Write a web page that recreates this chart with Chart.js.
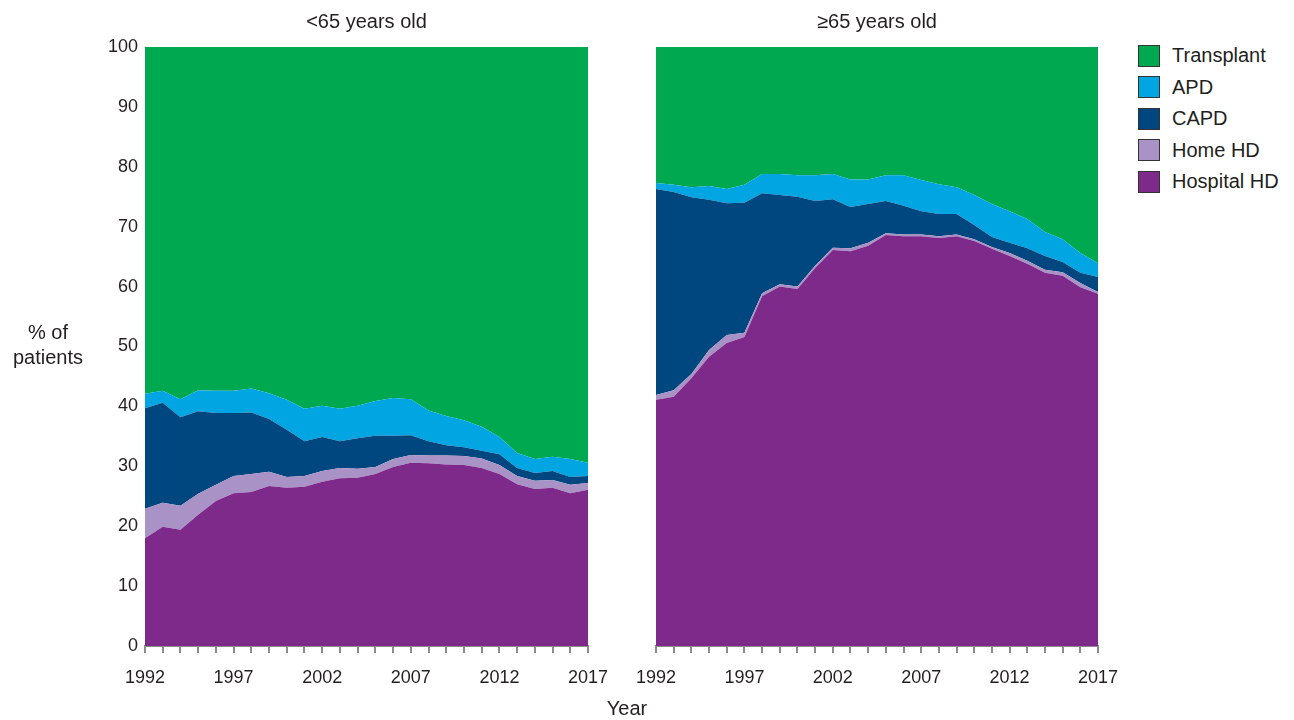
<!DOCTYPE html>
<html>
<head>
<meta charset="utf-8">
<script src="https://cdn.jsdelivr.net/npm/chart.js@4/dist/chart.umd.min.js"></script>
<style>
  body { margin: 0; background: #fff; font-family: "Liberation Sans", Arial, sans-serif; color: #231f20; }
  #wrap { position: relative; width: 1294px; height: 720px; overflow: hidden; }
  #left { position: absolute; left: 0; top: 0; }
  #right { position: absolute; left: 600px; top: 0; }
  .lbl { position: absolute; font-size: 20px; line-height: 25px; text-align: center; }
  #legend { position: absolute; left: 1138px; top: 40px; font-size: 20px; background: #fff; }
  .item { display: flex; align-items: center; height: 31.5px; }
  .box { width: 20px; height: 20px; border: 1px solid #333; margin-right: 12px; }
</style>
</head>
<body>
<div id="wrap">
  <canvas id="left" width="630" height="720"></canvas>
  <canvas id="right" width="540" height="720"></canvas>
  <div class="lbl" style="left:0; top:320px; width:96px;">% of<br>patients</div>
  <div class="lbl" style="left:597px; top:696px; width:60px;">Year</div>
  <div id="legend"></div>
</div>
<script>
const years = [1992, 1993, 1994, 1995, 1996, 1997, 1998, 1999, 2000, 2001, 2002, 2003, 2004,
  2005, 2006, 2007, 2008, 2009, 2010, 2011, 2012, 2013, 2014, 2015, 2016, 2017];

const seriesNames = ["Hospital HD", "Home HD", "CAPD", "APD", "Transplant"];
const seriesColors = ["#7e2a8b", "#a993c6", "#00467f", "#00a5e1", "#00a94f"];

// under 65, % of patients per modality
const under65Hospital = [18.0, 19.9, 19.4, 21.9, 24.2, 25.5, 25.7, 26.7, 26.4, 26.6, 27.4, 28.0, 28.1,
  28.7, 29.9, 30.6, 30.5, 30.3, 30.2, 29.7, 28.7, 27.0, 26.2, 26.4, 25.5, 26.1];
const under65Home = [4.9, 4.0, 4.0, 3.5, 2.7, 2.9, 3.0, 2.4, 1.8, 1.8, 1.8, 1.7, 1.5,
  1.2, 1.3, 1.3, 1.3, 1.5, 1.5, 1.6, 1.5, 1.4, 1.4, 1.3, 1.4, 1.1];
const under65CAPD = [16.8, 16.7, 14.8, 13.8, 12.0, 10.5, 10.3, 8.8, 7.9, 5.8, 5.7, 4.5, 5.1,
  5.2, 3.9, 3.3, 2.4, 1.7, 1.5, 1.3, 1.8, 1.3, 1.3, 1.5, 1.3, 1.2];
const under65APD = [2.4, 2.0, 3.0, 3.5, 3.7, 3.7, 4.0, 4.3, 5.0, 5.4, 5.2, 5.4, 5.4,
  5.8, 6.3, 6.0, 5.1, 4.9, 4.5, 4.0, 2.9, 2.5, 2.3, 2.4, 3.0, 2.2];
const under65Transplant = [57.9, 57.4, 58.8, 57.3, 57.4, 57.4, 57.0, 57.8, 58.9, 60.4, 59.9, 60.4, 59.9,
  59.1, 58.6, 58.8, 60.7, 61.6, 62.3, 63.4, 65.1, 67.8, 68.8, 68.4, 68.8, 69.4];

// 65 and over
const over65Hospital = [41.1, 41.6, 44.7, 48.3, 50.6, 51.6, 58.4, 60.0, 59.6, 63.1, 66.1, 65.9, 66.8,
  68.6, 68.4, 68.4, 68.1, 68.4, 67.6, 66.3, 65.1, 63.8, 62.3, 61.8, 59.9, 58.8];
const over65Home = [0.8, 1.1, 0.7, 1.1, 1.3, 0.7, 0.5, 0.4, 0.4, 0.4, 0.4, 0.5, 0.5,
  0.3, 0.3, 0.3, 0.3, 0.3, 0.3, 0.3, 0.5, 0.5, 0.5, 0.6, 0.7, 0.3];
const over65CAPD = [34.4, 33.1, 29.5, 25.1, 22.0, 21.7, 16.7, 14.9, 15.0, 10.8, 8.1, 6.9, 6.5,
  5.4, 4.8, 3.9, 3.7, 3.4, 2.4, 1.7, 1.7, 2.1, 2.3, 1.7, 1.7, 2.5];
const over65APD = [1.0, 1.2, 1.7, 2.3, 2.4, 3.0, 3.2, 3.5, 3.6, 4.3, 4.2, 4.6, 4.1,
  4.3, 5.1, 5.2, 5.0, 4.5, 5.0, 5.5, 5.3, 4.9, 4.0, 3.8, 3.3, 2.3];
const over65Transplant = [22.7, 23.0, 23.4, 23.2, 23.7, 23.0, 21.2, 21.2, 21.4, 21.4, 21.2, 22.1, 22.1,
  21.4, 21.4, 22.2, 22.9, 23.4, 24.7, 26.2, 27.4, 28.7, 30.9, 32.1, 34.4, 36.1];

const yTicks = [0, 10, 20, 30, 40, 50, 60, 70, 80, 90, 100];

const family = "'Liberation Sans', Arial, sans-serif";
const tickFont = { family: family, size: 18 };
const titleFont = { family: family, size: 20, weight: "normal" };

function makeDatasets(values) {
  return values.map((v, i) => ({
    label: seriesNames[i],
    data: v,
    backgroundColor: seriesColors[i],
    borderWidth: 0,
    pointRadius: 0,
    tension: 0,
    fill: i === 0 ? "origin" : "-1",
  }));
}

function makeChart(id, title, values, showY, padLeft) {
  const ctx = document.getElementById(id).getContext("2d");
  return new Chart(ctx, {
    type: "line",
    data: { labels: years, datasets: makeDatasets(values) },
    options: {
      responsive: false,
      animation: false,
      layout: { padding: { left: padLeft, right: 42, top: 0, bottom: 0 } },
      plugins: {
        legend: { display: false },
        tooltip: { enabled: false },
        title: {
          display: true,
          text: title,
          fullSize: false,
          font: titleFont,
          color: "#231f20",
          padding: { top: 10, bottom: 13 },
        },
      },
      scales: {
        x: {
          offset: false,
          grid: { display: true, drawOnChartArea: false, tickLength: 7, color: "#8c8c8c", lineWidth: 2 },
          border: { display: true, color: "#8c8c8c", width: 2 },
          ticks: {
            autoSkip: false,
            maxRotation: 0,
            font: tickFont,
            color: "#231f20",
            padding: 14,
            callback: function (val, idx) {
              return (years[idx] - 1992) % 5 === 0 ? String(years[idx]) : "";
            },
          },
          afterFit: (s) => { s.height = 74; s.paddingLeft = 0; s.paddingRight = 0; },
        },
        y: {
          display: showY,
          stacked: true,
          min: 0,
          max: 100,
          afterBuildTicks: (s) => { s.ticks = yTicks.map((v) => ({ value: v })); },
          grid: { display: false, drawTicks: false },
          border: { display: false },
          ticks: { font: tickFont, color: "#231f20", padding: 7 },
          afterFit: (s) => { s.width = showY ? 145 : 0; },
        },
      },
    },
  });
}

makeChart("left", "<65 years old",
  [under65Hospital, under65Home, under65CAPD, under65APD, under65Transplant], true, 0);
makeChart("right", "\u226565 years old",
  [over65Hospital, over65Home, over65CAPD, over65APD, over65Transplant], false, 56);

// legend, top entry first
const legend = document.getElementById("legend");
for (let i = seriesNames.length - 1; i >= 0; i--) {
  const row = document.createElement("div");
  row.className = "item";
  row.innerHTML = '<div class="box" style="background:' + seriesColors[i] + '"></div>' + seriesNames[i];
  legend.appendChild(row);
}
</script>
</body>
</html>
